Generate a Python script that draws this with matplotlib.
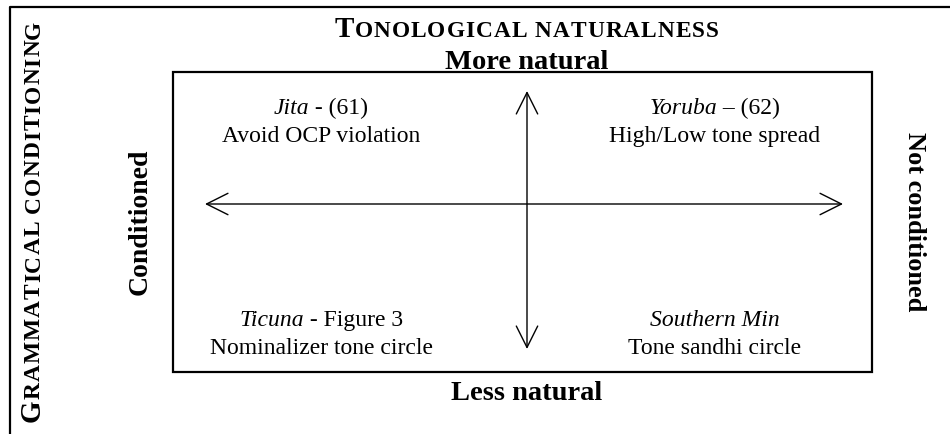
import matplotlib
matplotlib.use('Agg')
import matplotlib.pyplot as plt
from matplotlib.patches import Rectangle, FancyArrowPatch

plt.rcParams['font.family'] = ['Liberation Serif', 'DejaVu Serif']

# textos del diagrama
titulo_sup = 'TONOLOGICAL NATURALNESS'
titulo_izq = 'GRAMMATICAL CONDITIONING'
polo_arriba = 'More natural'
polo_abajo = 'Less natural'
polo_izq = 'Conditioned'
polo_der = 'Not conditioned'
# cuadrantes: arriba-izq, arriba-der, abajo-izq, abajo-der
lenguas = ['Jita', 'Yoruba', 'Ticuna', 'Southern Min']
refs = [' - (61)', ' \u2013 (62)', ' - Figure 3', '']
procesos = ['Avoid OCP violation', 'High/Low tone spread',
            'Nominalizer tone circle', 'Tone sandhi circle']

fig = plt.figure(figsize=(9.5, 4.35), dpi=100)
ax = fig.add_axes([0, 0, 1, 1])
ax.set_xlim(0, 950)
ax.set_ylim(435, 0)
ax.axis('off')
r = fig.canvas.get_renderer()


def ancho(s, size, weight='normal', style='normal'):
    # ancho en px, truco 'x..x' para contar espacios
    t1 = ax.text(0, 0, 'x' + s + 'x', fontsize=size, fontweight=weight, fontstyle=style)
    t2 = ax.text(0, 0, 'xx', fontsize=size, fontweight=weight, fontstyle=style)
    w = t1.get_window_extent(r).width - t2.get_window_extent(r).width
    t1.remove()
    t2.remove()
    return w


def trozos(x, y, chunks, rot=0):
    # chunks: (texto, size, weight, style, espaciado); x,y = centro sobre la linea base
    piezas = []
    for s, size, weight, style, track in chunks:
        if track:
            for ch in s:
                piezas.append((ch, size, weight, style, ancho(ch, size, weight, style) + track))
        else:
            piezas.append((s, size, weight, style, ancho(s, size, weight, style)))
    total = sum(p[4] for p in piezas)
    dx, dy = (1, 0) if rot == 0 else (0, -1)
    px = x - dx * total / 2
    py = y - dy * total / 2
    for s, size, weight, style, w in piezas:
        ax.text(px, py, s, fontsize=size, fontweight=weight, fontstyle=style,
                ha='left', va='baseline', rotation=rot, rotation_mode='anchor')
        px += dx * w
        py += dy * w


def versalitas(texto, big, small, track):
    # solo la primera letra en tamaño grande
    return [(texto[0], big, 'bold', 'normal', track), (texto[1:], small, 'bold', 'normal', track)]


# marco exterior (solo arriba e izquierda)
ax.plot([10, 10, 950], [435, 8, 8], color='black', lw=1.6, solid_capstyle='butt')

# caja
ax.add_patch(Rectangle((173, 73), 699, 300, fill=False, ec='black', lw=1.6))

# flechas
ax.add_patch(FancyArrowPatch((205, 205), (843, 205), arrowstyle='<->,head_length=1.1,head_width=0.55',
                             mutation_scale=14, lw=1.0, color='black', shrinkA=0, shrinkB=0))
ax.add_patch(FancyArrowPatch((527, 92), (527, 350), arrowstyle='<->,head_length=1.1,head_width=0.55',
                             mutation_scale=14, lw=1.0, color='black', shrinkA=0, shrinkB=0))

# titulos
trozos(527, 37, versalitas(titulo_sup, 21, 16.8, 1.0))
trozos(40, 221, versalitas(titulo_izq, 21, 16.8, 1.0), rot=90)
ax.text(527, 69, polo_arriba, fontsize=20.5, fontweight='bold', ha='center', va='baseline')
ax.text(527, 400, polo_abajo, fontsize=20.5, fontweight='bold', ha='center', va='baseline')
ax.text(140, 222, polo_izq, fontsize=20, fontweight='bold', ha='center', va='center', rotation=90)
ax.text(914, 222, polo_der, fontsize=19, fontweight='bold', ha='center', va='center', rotation=-90)

# cuadrantes
cx = [321, 715, 321, 715]
by = [114, 114, 326, 326]
for i in range(4):
    trozos(cx[i], by[i], [(lenguas[i], 17, 'normal', 'italic', 0), (refs[i], 17, 'normal', 'normal', 0)])
    ax.text(cx[i], by[i] + 28, procesos[i], fontsize=17, ha='center', va='baseline')

fig.savefig('out.png', dpi=100)
